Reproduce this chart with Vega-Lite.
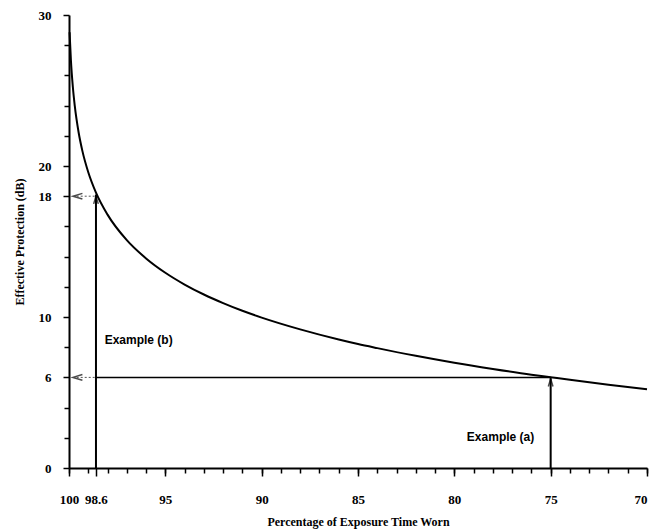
{
  "$schema": "https://vega.github.io/schema/vega-lite/v6.json",
  "width": 578,
  "height": 453,
  "autosize": {"type": "none"},
  "padding": {"left": 69, "top": 15, "right": 4, "bottom": 62},
  "config": {
    "view": {"stroke": null},
    "axis": {
      "domainColor": "black", "domainWidth": 2, "tickColor": "black", "tickWidth": 1.5,
      "labelFont": "Liberation Serif", "labelFontWeight": "bold", "labelFontSize": 13, "labelColor": "black",
      "titleFont": "Liberation Serif", "titleFontWeight": "bold", "titleFontSize": 12, "titleColor": "black",
      "grid": false
    }
  },
  "datasets": {
    "curve": [
      {"pct": 99.97, "db": 28.86}, {"pct": 99.9, "db": 26.99}, {"pct": 99.8, "db": 25.23}, {"pct": 99.7, "db": 23.98},
      {"pct": 99.5, "db": 22.22}, {"pct": 99.3, "db": 20.97}, {"pct": 99.0, "db": 19.59}, {"pct": 98.6, "db": 18.24},
      {"pct": 98.0, "db": 16.78}, {"pct": 97.0, "db": 15.09}, {"pct": 96.0, "db": 13.88}, {"pct": 95.0, "db": 12.93},
      {"pct": 94.0, "db": 12.15}, {"pct": 93.0, "db": 11.49}, {"pct": 92.0, "db": 10.92}, {"pct": 91.0, "db": 10.41},
      {"pct": 90.0, "db": 9.96}, {"pct": 88.0, "db": 9.18}, {"pct": 86.0, "db": 8.51}, {"pct": 85.0, "db": 8.21},
      {"pct": 84.0, "db": 7.94}, {"pct": 82.0, "db": 7.43}, {"pct": 80.0, "db": 6.97}, {"pct": 78.0, "db": 6.56},
      {"pct": 76.0, "db": 6.18}, {"pct": 75.0, "db": 6.01}, {"pct": 74.0, "db": 5.84}, {"pct": 72.0, "db": 5.52},
      {"pct": 70.0, "db": 5.22}
    ],
    "verticals": [
      {"pct": 98.6, "bottom": 0, "top": 18.1},
      {"pct": 75, "bottom": 0, "top": 5.95}
    ],
    "dashed": [
      {"y": 18, "from": 99.6, "to": 98.6},
      {"y": 6, "from": 99.6, "to": 98.6}
    ],
    "solid": [
      {"y": 6, "from": 98.6, "to": 75}
    ],
    "leftArrows": [
      {"pct": 99.55, "db": 18},
      {"pct": 99.55, "db": 6}
    ],
    "upArrows": [
      {"pct": 98.6, "db": 17.75},
      {"pct": 75, "db": 5.65}
    ],
    "labels": [
      {"pct": 98.15, "db": 8.5, "text": "Example (b)"},
      {"pct": 79.35, "db": 2.05, "text": "Example (a)"}
    ]
  },
  "layer": [
    {
      "data": {"name": "curve"},
      "mark": {"type": "line", "color": "black", "strokeWidth": 2, "interpolate": "monotone"},
      "encoding": {
        "x": {
          "field": "pct", "type": "quantitative",
          "scale": {"domain": [70, 100], "reverse": true, "nice": false, "zero": false},
          "axis": {
            "orient": "bottom", "values": [100, 98.6, 95, 90, 85, 80, 75, 70],
            "labelExpr": "'' + datum.value", "tickSize": 8, "labelPadding": 17, "labelFlush": false,
            "labelAlign": {"expr": "datum.value == 70 ? 'right' : 'center'"},
            "title": "Percentage of Exposure Time Worn", "titlePadding": 10, "labelOverlap": false
          }
        },
        "y": {
          "field": "db", "type": "quantitative",
          "scale": {"domain": [0, 30], "nice": false},
          "axis": {
            "orient": "left", "values": [0, 6, 10, 18, 20, 30],
            "tickSize": 6, "labelPadding": 12, "labelFlush": false,
            "title": "Effective Protection (dB)", "titlePadding": 12
          }
        }
      }
    },
    {
      "data": {"name": "verticals"},
      "mark": {"type": "rule", "color": "black", "strokeWidth": 2},
      "encoding": {
        "x": {
          "field": "pct", "type": "quantitative",
          "axis": {
            "orient": "bottom", "values": [70,71,72,73,74,75,76,77,78,79,80,81,82,83,84,85,86,87,88,89,90,91,92,93,94,95,96,97,98,99,100],
            "labels": false, "domain": false, "tickSize": 5, "title": null
          }
        },
        "y": {
          "field": "bottom", "type": "quantitative",
          "axis": {
            "orient": "left", "values": [2,4,8,12,14,16,22,24,26,28],
            "labels": false, "domain": false, "tickSize": 5, "title": null
          }
        },
        "y2": {"field": "top"}
      }
    },
    {
      "data": {"name": "dashed"},
      "mark": {"type": "rule", "color": "#555", "strokeWidth": 1, "strokeDash": [2, 2]},
      "encoding": {
        "x": {"field": "from", "type": "quantitative", "axis": null},
        "x2": {"field": "to"},
        "y": {"field": "y", "type": "quantitative", "axis": null}
      }
    },
    {
      "data": {"name": "solid"},
      "mark": {"type": "rule", "color": "black", "strokeWidth": 1.5},
      "encoding": {
        "x": {"field": "from", "type": "quantitative", "axis": null},
        "x2": {"field": "to"},
        "y": {"field": "y", "type": "quantitative", "axis": null}
      }
    },
    {
      "data": {"name": "leftArrows"},
      "mark": {"type": "point", "shape": "M1,-0.6L-1,0L1,0.6", "filled": false, "stroke": "black", "strokeWidth": 1.5, "size": 90},
      "encoding": {
        "x": {"field": "pct", "type": "quantitative", "axis": null},
        "y": {"field": "db", "type": "quantitative", "axis": null}
      }
    },
    {
      "data": {"name": "upArrows"},
      "mark": {"type": "point", "shape": "M-0.6,1L0,-1L0.6,1", "filled": false, "stroke": "black", "strokeWidth": 1.5, "size": 60},
      "encoding": {
        "x": {"field": "pct", "type": "quantitative", "axis": null},
        "y": {"field": "db", "type": "quantitative", "axis": null}
      }
    },
    {
      "data": {"name": "labels"},
      "mark": {"type": "text", "align": "left", "baseline": "middle", "font": "Liberation Sans", "fontSize": 12, "fontWeight": "bold", "color": "black"},
      "encoding": {
        "x": {"field": "pct", "type": "quantitative", "axis": null},
        "y": {"field": "db", "type": "quantitative", "axis": null},
        "text": {"field": "text"}
      }
    },
    {
      "mark": {"type": "rule", "color": "black", "strokeWidth": 2},
      "encoding": {"y": {"datum": 30, "type": "quantitative", "axis": null}}
    }
  ],
  "resolve": {"axis": {"x": "independent", "y": "independent"}}
}
